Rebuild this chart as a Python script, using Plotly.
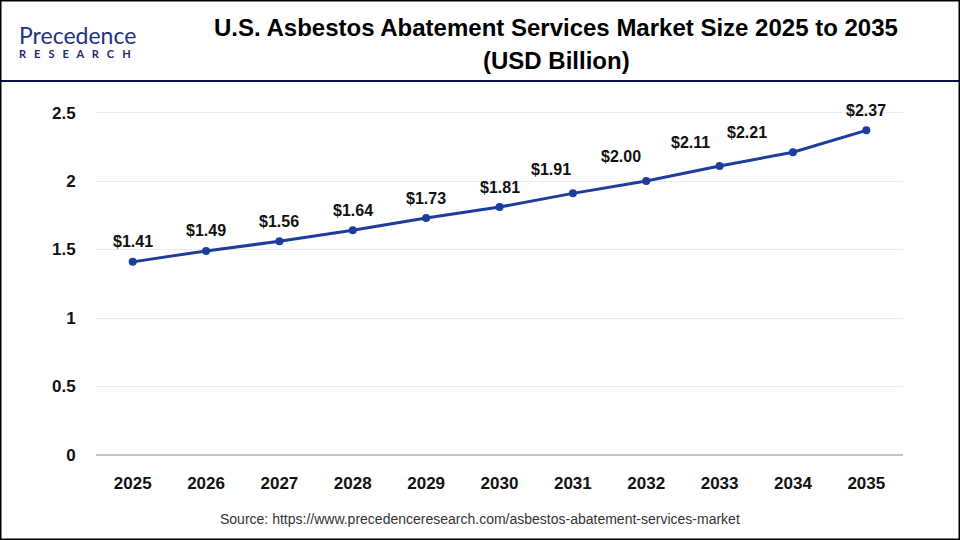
import plotly.graph_objects as go

years = ["2025", "2026", "2027", "2028", "2029", "2030", "2031", "2032", "2033", "2034", "2035"]
values = [1.41, 1.49, 1.56, 1.64, 1.73, 1.81, 1.91, 2.00, 2.11, 2.21, 2.37]
labels = ["$1.41", "$1.49", "$1.56", "$1.64", "$1.73", "$1.81", "$1.91", "$2.00", "$2.11", "$2.21", "$2.37"]
y_ticks = [0, 0.5, 1, 1.5, 2, 2.5]
y_tick_text = ["0", "0.5", "1", "1.5", "2", "2.5"]

# label placement (pixel shifts relative to each point), styling only
label_dx = [0, 0, 0, 0, 0, 0, -22, -25, -29, -46, 0]
label_dy = [20, 20, 20, 20, 20, 20, 24, 25, 23, 20, 20]

W, H = 960, 540
L, R, T, B = 96, 57, 92, 85
pw, ph = W - L - R, H - T - B

def px(x):
    return (x - L) / pw

def py(y):
    return (H - B - y) / ph

fig = go.Figure()
fig.add_trace(go.Scatter(
    x=years, y=values, mode="lines+markers",
    line=dict(color="#1d3d9c", width=3),
    marker=dict(color="#1d3d9c", size=8),
    cliponaxis=False, hoverinfo="skip",
))

for i, (v, t, dx, dy) in enumerate(zip(values, labels, label_dx, label_dy)):
    fig.add_annotation(x=i, y=v, text=t, showarrow=False, xshift=dx, yshift=dy,
                       xanchor="center", yanchor="middle",
                       font=dict(family="Liberation Sans, Arial", size=16, color="#111111", weight="bold"))

fig.update_layout(
    width=W, height=H,
    margin=dict(l=L, r=R, t=T, b=B),
    paper_bgcolor="white", plot_bgcolor="white",
    showlegend=False,
    font=dict(family="Liberation Sans, Arial", color="#111111"),
    xaxis=dict(type="category", range=[-0.5, 10.5], showgrid=False, showline=False,
               zeroline=False, ticks="outside", ticklen=13, tickcolor="rgba(0,0,0,0)",
               tickfont=dict(size=17, weight="bold", color="#111111")),
    yaxis=dict(range=[0, 2.65], tickvals=y_ticks, ticktext=y_tick_text,
               showgrid=True, gridcolor="#ebebeb", gridwidth=1,
               zeroline=True, zerolinecolor="#c4c4c4", zerolinewidth=2,
               showline=False, ticks="outside", ticklen=16, tickcolor="rgba(0,0,0,0)",
               tickfont=dict(size=17, weight="bold", color="#111111")),
)

# header separator and outer border
fig.add_shape(type="line", xref="paper", yref="paper", x0=px(0), x1=px(W), y0=py(81), y1=py(81),
              line=dict(color="#0d0d45", width=2))
fig.add_shape(type="rect", xref="paper", yref="paper", x0=px(0.75), x1=px(W - 0.75),
              y0=py(H - 0.75), y1=py(0.75), line=dict(color="#000000", width=1.5))

# title
title_font = dict(family="Liberation Sans Narrow, Arial Narrow, Liberation Sans", size=24,
                  color="#000000", weight="bold")
fig.add_annotation(xref="paper", yref="paper", x=px(556), y=py(27), showarrow=False,
                   text="U.S. Asbestos Abatement Services Market Size 2025 to 2035",
                   font=title_font, xanchor="center", yanchor="middle")
fig.add_annotation(xref="paper", yref="paper", x=px(556), y=py(60), showarrow=False,
                   text="(USD Billion)", font=title_font, xanchor="center", yanchor="middle")

# logo (single two-line text block)
fig.add_annotation(xref="paper", yref="paper", x=px(17), y=py(19), showarrow=False,
                   text="<span style='font-size:23px;font-weight:normal;color:#1f317f'>Precedence</span><br>"
                        "R&nbsp;&nbsp;&nbsp;E&nbsp;&nbsp;&nbsp;S&nbsp;&nbsp;&nbsp;E&nbsp;&nbsp;&nbsp;A&nbsp;&nbsp;&nbsp;"
                        "R&nbsp;&nbsp;&nbsp;C&nbsp;&nbsp;&nbsp;H",
                   xanchor="left", yanchor="top", align="left",
                   font=dict(family="Lato, Liberation Sans", size=11, color="#1c2870", weight="bold"))

# source
fig.add_annotation(xref="paper", yref="paper", x=px(480), y=py(519), showarrow=False,
                   text="Source: https://www.precedenceresearch.com/asbestos-abatement-services-market",
                   font=dict(family="Liberation Sans Narrow, Arial Narrow, Liberation Sans", size=14,
                             color="#333333"), xanchor="center", yanchor="middle")

fig.write_html("out.html")
